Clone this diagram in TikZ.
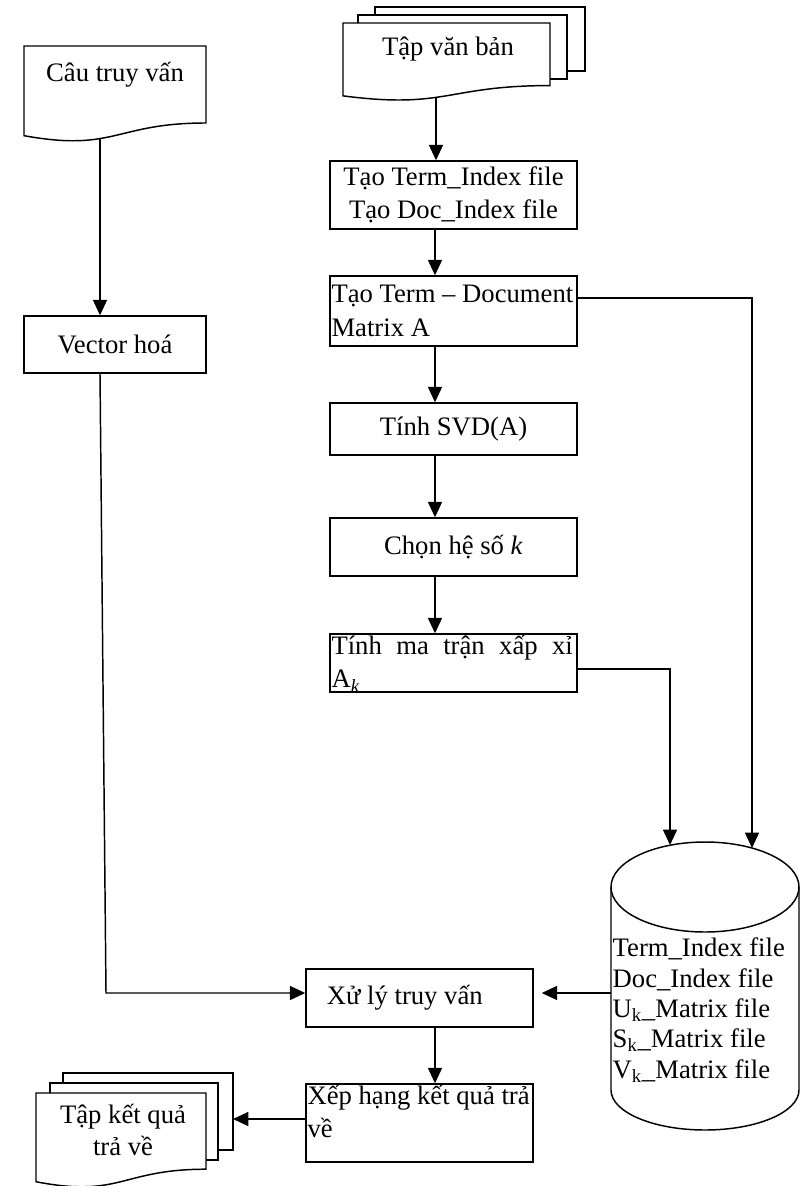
\documentclass[tikz,border=0pt]{standalone}
\usepackage{fontspec}
\setmainfont{Liberation Serif}
\usetikzlibrary{arrows.meta,calc}
\newcommand{\docshape}[4]{%
  \draw[fill=white] (#1,#2) -- (#3,#2) -- (#3,{#2+0.802*#4})
    .. controls ({(#1+#3)/2},{#2+0.802*#4}) and ({(#1+#3)/2},{#2+1.107*#4}) ..
    (#1,{#2+0.934*#4}) -- cycle;}
\begin{document}
\begin{tikzpicture}[x=0.75pt,y=-0.75pt,
  line width=1.1pt,
  every node/.style={font=\fontsize{20pt}{25pt}\selectfont},
  box/.style={draw, fill=white, inner sep=1pt, align=center},
  cbox/.style={box, minimum width=185.25pt},
  arr/.style={-{Triangle[length=11.5pt,width=10.5pt]}},
  sheet/.style={draw, fill=white}]
\useasboundingbox (0,0) rectangle (803,1186);

% helper coordinates
\coordinate (c298) at (0,298);
\coordinate (c669) at (0,669);
\coordinate (c993) at (0,993);
\coordinate (c1119) at (0,1119);
\coordinate (colM) at (435,0);
\coordinate (colL) at (100,0);
\coordinate (dbA) at (670,845);
\coordinate (dbB) at (752,848);
\coordinate (dbL) at (611,993);
\coordinate (vbend) at (106,993);
\coordinate (qbot) at (100,138);
\coordinate (tvbbot) at (436,97);
\coordinate (tkqR) at (233,1119);

% Cau truy van (document)
\docshape{24}{46}{206}{96}
\node[anchor=base] (q) at (115,81) {Câu truy vấn};

% Tap van ban (multi-document)
\draw[sheet] (375,7) rectangle (585,71);
\draw[sheet] (358,15) rectangle (567,79);
\docshape{343}{23}{550}{78}
\node[anchor=base] (tvb) at (448,55) {Tập văn bản};

% Tap ket qua tra ve (multi-document)
\draw[sheet] (63,1073) rectangle (233,1150);
\draw[sheet] (50,1083) rectangle (218,1160);
\docshape{36}{1093}{206}{95}
\node[anchor=base, align=center, font=\fontsize{20pt}{24pt}\selectfont] (tkq) at (123,1155) {Tập kết quả\\trả về};

% Process boxes
\node[cbox, minimum height=51pt] (ti) at (453.5,195) {Tạo Term\_Index file\\Tạo Doc\_Index file};
\node[cbox, minimum height=52.5pt] (td) at (453.5,311)
  {\parbox{183pt}{\raggedright\mbox{Tạo Term – Document}\\Matrix A}};
\node[cbox, minimum height=39pt] (svd) at (453.5,429) {Tính SVD(A)};
\node[cbox, minimum height=43.5pt] (k) at (453.5,547) {Chọn hệ số \textit{k}};
\node[cbox, minimum height=43.5pt] (tm) at (453.5,663)
  {\parbox[c][41.5pt][t]{183pt}{\makebox[181pt][s]{Tính ma trận xấp xỉ}\\A\textsubscript{\textit{k}}}};
\node[box, minimum width=136.5pt, minimum height=42.75pt] (vec) at (115,344.5) {Vector hoá};
\node[box, minimum width=170.25pt, minimum height=43.5pt] (xl) at (419.5,998)
  {\makebox[168pt][l]{\hspace{14.5pt}Xử lý truy vấn}};
\node[box, minimum width=170.25pt, minimum height=58.5pt] (xh) at (419.5,1123)
  {\parbox[c][56.5pt][t]{168pt}{\mbox{Xếp hạng kết quả trả}\\về}};

% Database cylinder
\draw[fill=white] (611,887) -- (611,1090)
  arc[start angle=180, end angle=360, x radius=70.5pt, y radius=30pt] -- (799,887);
\draw[fill=white] (705,887) ellipse [x radius=70.5pt, y radius=33.75pt];
\node[anchor=base west, inner sep=0pt, align=left, font=\fontsize{20pt}{22.7pt}\selectfont] (db) at (612,1078)
  {Term\_Index file\\Doc\_Index file\\U\textsubscript{k}\_Matrix file\\S\textsubscript{k}\_Matrix file\\V\textsubscript{k}\_Matrix file};

% Connectors
\draw[arr] (tvbbot) -- (ti.north -| tvbbot);
\draw[arr] (ti.south -| colM) -- (td.north -| colM);
\draw[arr] (td.south -| colM) -- (svd.north -| colM);
\draw[arr] (svd.south -| colM) -- (k.north -| colM);
\draw[arr] (k.south -| colM) -- (tm.north -| colM);
\draw[arr] (td.east |- c298) -| (dbB);
\draw[arr] (tm.east |- c669) -| (dbA);
\draw[arr] (qbot) -- (vec.north -| qbot);
\draw[arr] (vec.south -| colL) -- (vbend) -- (xl.west |- c993);
\draw[arr] (dbL) -- ($(xl.east |- c993)+(8,0)$);
\draw[arr] (xl.south -| colM) -- (xh.north -| colM);
\draw[arr] (xh.west |- c1119) -- (tkqR);
\end{tikzpicture}
\end{document}
